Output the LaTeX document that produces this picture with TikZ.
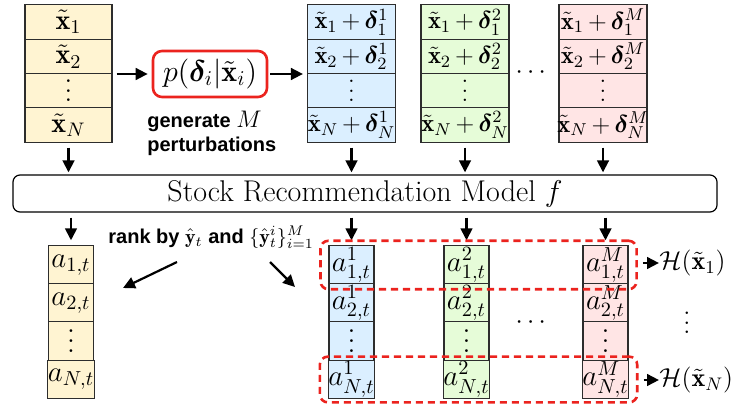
\RequirePackage{fix-cm}
\documentclass[tikz,border=0pt]{standalone}
\usepackage{amsmath,bm}
\usepackage{fontspec}
\setsansfont{Liberation Sans}
\usetikzlibrary{arrows.meta,fit}
\definecolor{cyel}{RGB}{255,244,210}
\definecolor{cblu}{RGB}{219,239,255}
\definecolor{cgrn}{RGB}{230,252,216}
\definecolor{cpnk}{RGB}{255,229,229}
\definecolor{cred}{RGB}{235,35,30}
\definecolor{cbord}{RGB}{45,45,45}
\newcommand\myvdots[1][4.8pt]{\vbox{\baselineskip#1\lineskiplimit0pt\hbox{.}\hbox{.}\hbox{.}}}
\newcommand\fitcell[1]{\makebox[44pt]{\medmuskip=3mu plus 2mu minus 4mu$#1$}}
\begin{document}
\begin{tikzpicture}[x=0.5pt,y=-0.5pt,
 cell/.style={draw=cbord,line width=0.55pt,minimum height=17.125pt,inner sep=0pt,anchor=center,font=\fontsize{12.3}{15}\selectfont},
 topc/.style={cell,minimum width=44pt},
 leftc/.style={cell,minimum width=43.5pt,fill=cyel,font=\fontsize{14}{16}\selectfont},
 botc/.style={cell,minimum width=22.5pt,minimum height=19.1pt,font=\fontsize{14.5}{17}\selectfont},
 arr/.style={line width=1.3pt,-{Triangle[length=6pt,width=5.8pt]}},
 reddash/.style={draw=cred,line width=1.3pt,dash pattern=on 3.6pt off 2.4pt,rounded corners=4pt,inner xsep=4pt},
 lbl/.style={font=\sffamily\bfseries\fontsize{10}{12}\selectfont,inner sep=0pt}
]
\useasboundingbox (0,0) rectangle (731,411);

% original features
\node[leftc] (x1) at (68.5,22) {$\tilde{\mathbf{x}}_1$};
\node[leftc] (x2) at (68.5,56.5) {$\tilde{\mathbf{x}}_2$};
\node[leftc] (x3) at (68.5,91) {\myvdots};
\node[leftc] (x4) at (68.5,125) {$\tilde{\mathbf{x}}_N$};

% perturbation distribution
\node[draw=cred,line width=1.3pt,rounded corners=4.5pt,minimum width=57pt,minimum height=23pt,inner sep=0pt,font=\fontsize{15}{17}\selectfont] (p) at (210,74) {$p(\boldsymbol{\delta}_i|\tilde{\mathbf{x}}_i)$};
\node[lbl,align=left,anchor=west] (gen) at (147,133) {generate {\fontsize{12}{12}\selectfont$M$}\\perturbations};

% perturbed features
\foreach \cc/\xx/\col/\s in {b/351.5/cblu/1, g/465/cgrn/2, m/603/cpnk/M} {
  \node[topc,fill=\col] (\cc1) at (\xx,22) {\fitcell{\tilde{\mathbf{x}}_1+\boldsymbol{\delta}_1^{\s}}};
  \node[topc,fill=\col] (\cc2) at (\xx,56.5) {\fitcell{\tilde{\mathbf{x}}_2+\boldsymbol{\delta}_2^{\s}}};
  \node[topc,fill=\col] (\cc3) at (\xx,91) {\myvdots};
  \node[topc,fill=\col] (\cc4) at (\xx,125) {\fitcell{\tilde{\mathbf{x}}_N+\boldsymbol{\delta}_N^{\s}}};
}
\node[inner sep=0pt,font=\fontsize{13}{15}\selectfont] (tdots) at (533,73) {$\cdots$};

% arrows top
\draw[arr,shorten <=2pt,shorten >=2pt] (x1.east |- p.west) -- (p.west);
\draw[arr,shorten <=1pt,shorten >=2pt] (p.east) -- (p.east -| b1.west);

% model
\node[draw=black,line width=0.6pt,rounded corners=3.5pt,minimum width=352pt,minimum height=18.5pt,inner sep=0pt,font=\fontsize{15}{17}\selectfont] (model) at (365,193.5) {Stock Recommendation Model $f$};

\foreach \cc in {x,b,g,m}
  \draw[arr,shorten <=2.5pt,shorten >=1pt] (\cc4.south) -- (\cc4.south |- model.north);

% rankings
\node[botc,fill=cyel] (a1) at (71,265) {$a_{1,t}$};
\node[botc,fill=cyel] (a2) at (71,303) {$a_{2,t}$};
\node[botc,fill=cyel] (a3) at (71,341) {\myvdots[5pt]};
\node[botc,fill=cyel] (a4) at (71,379.5) {$a_{N,t}$};

\foreach \cc/\xx/\col/\s in {ab/351.5/cblu/1, ag/466.5/cgrn/2, am/605.5/cpnk/M} {
  \node[botc,fill=\col] (\cc1) at (\xx,265) {$a_{1,t}^{\s}$};
  \node[botc,fill=\col] (\cc2) at (\xx,303) {$a_{2,t}^{\s}$};
  \node[botc,fill=\col] (\cc3) at (\xx,341) {\myvdots[5pt]};
  \node[botc,fill=\col] (\cc4) at (\xx,379.5) {$a_{N,t}^{\s}$};
}
\node[inner sep=0pt,font=\fontsize{13}{15}\selectfont] (bdots) at (533,323) {$\cdots$};

\foreach \cc in {a,ab,ag,am}
  \draw[arr,shorten <=2.5pt,shorten >=2.5pt] (model.south -| \cc1.north) -- (\cc1.north);

% rank label and arrows
\node[lbl,anchor=base west] (rank) at (108,243) {rank by $\hat{\mathbf{y}}_t$ and $\{\hat{\mathbf{y}}_t^i\}_{i=1}^M$};
\coordinate (rl0) at (177,262);
\coordinate (rl1) at (123,288);
\coordinate (rr0) at (270,262);
\coordinate (rr1) at (295,287);
\draw[arr,line width=1.1pt] (rl0) -- (rl1);
\draw[arr,line width=1.1pt] (rr0) -- (rr1);

% dashed groups
\node[reddash,inner ysep=2.3pt,fit=(ab1)(am1)] (r1) {};
\node[reddash,inner ysep=1.6pt,fit=(ab4)(am4)] (r4) {};

\node[inner sep=0pt,anchor=west,font=\fontsize{13}{15}\selectfont] (H1) at (659,263) {$\mathcal{H}(\tilde{\mathbf{x}}_1)$};
\node[inner sep=0pt,anchor=west,font=\fontsize{13}{15}\selectfont] (HN) at (659,380) {$\mathcal{H}(\tilde{\mathbf{x}}_N)$};
\node[inner sep=0pt,font=\fontsize{13}{15}\selectfont] (hdots) at (687,323) {\myvdots};
\draw[arr,shorten <=2.5pt] (r1.east |- H1.west) -- (H1.west);
\draw[arr,shorten <=2.5pt] (r4.east |- HN.west) -- (HN.west);
\end{tikzpicture}
\end{document}
